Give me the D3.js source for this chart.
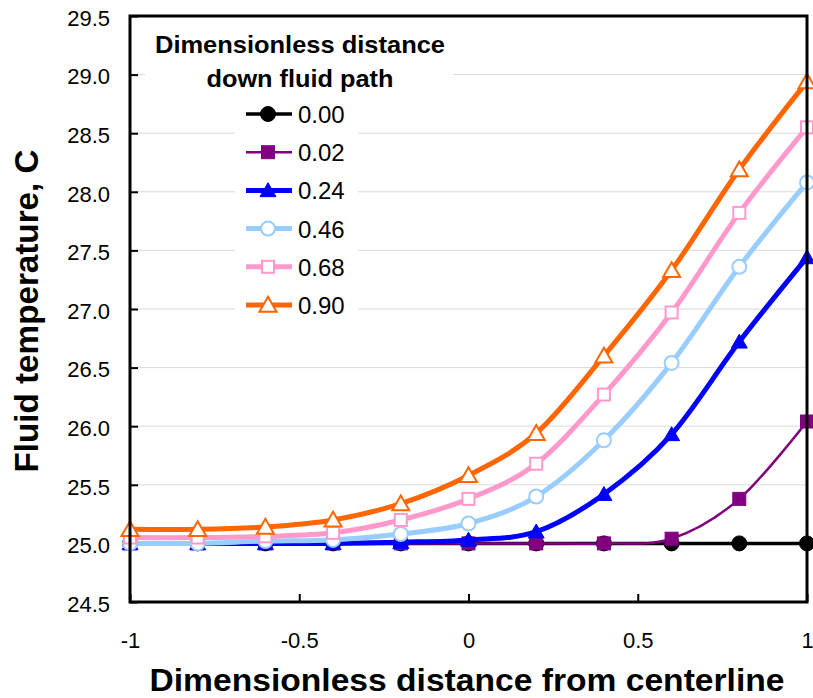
<!DOCTYPE html>
<html>
<head>
<meta charset="utf-8">
<script src="https://cdn.jsdelivr.net/npm/d3@7"></script>
<style>
  body { margin: 0; background: #fff; }
  svg { display: block; font-family: "Liberation Sans", Arial, sans-serif; }
  .grid line { stroke: #d9d9d9; stroke-width: 1px; }
  .axis path { display: none; }
  .axis line { stroke: #000; stroke-width: 2px; }
  .axis text { font-size: 22px; fill: #000; }
</style>
</head>
<body>
<svg id="chart" width="813" height="698"></svg>
<script>
// distance from centerline (x) and temperatures per fluid-path position
var xValues = [-1, -0.8, -0.6, -0.4, -0.2, 0, 0.2, 0.4, 0.6, 0.8, 1];
var seriesNames = ['0.00', '0.02', '0.24', '0.46', '0.68', '0.90'];
var t000 = [25, 25, 25, 25, 25, 25, 25, 25, 25, 25, 25];
var t002 = [25, 25, 25, 25, 25, 25, 25, 25, 25.04, 25.38, 26.04];
var t024 = [25, 25, 25, 25, 25.01, 25.03, 25.1, 25.42, 25.93, 26.72, 27.44];
var t046 = [25, 25, 25.02, 25.03, 25.08, 25.17, 25.4, 25.88, 26.54, 27.36, 28.08];
var t068 = [25.05, 25.05, 25.06, 25.09, 25.2, 25.38, 25.68, 26.27, 26.97, 27.82, 28.55];
var t090 = [25.12, 25.12, 25.14, 25.2, 25.34, 25.58, 25.94, 26.6, 27.33, 28.19, 28.94];
var yTicks = [24.5, 25, 25.5, 26, 26.5, 27, 27.5, 28, 28.5, 29, 29.5];
var xTicks = [-1, -0.5, 0, 0.5, 1];

var seriesValues = [t000, t002, t024, t046, t068, t090];

// look of each series, same order as seriesNames
var looks = [
  {color: '#000000', width: 3.5, shape: 'circle', fill: true, size: 7.5},
  {color: '#800080', width: 2.5, shape: 'square', fill: true, size: 13},
  {color: '#0000ff', width: 5, shape: 'triangle', fill: true, size: 16},
  {color: '#99ccff', width: 5, shape: 'circle', fill: false, size: 7},
  {color: '#ff99cc', width: 5, shape: 'square', fill: false, size: 12},
  {color: '#ff6600', width: 5, shape: 'triangle', fill: false, size: 17}
];

var m = {left: 130, right: 6, top: 16, bottom: 96};
var W = 813, H = 698;
var width = W - m.left - m.right, height = H - m.top - m.bottom;

var svg = d3.select('#chart');
var g = svg.append('g').attr('transform', 'translate(' + m.left + ',' + m.top + ')');

var x = d3.scaleLinear().domain([-1, 1]).range([0, width]);
var y = d3.scaleLinear().domain([24.5, 29.5]).range([height, 0]);

// gridlines
g.append('g').attr('class', 'grid')
  .selectAll('line').data(yTicks.slice(1, -1)).enter().append('line')
  .attr('x1', 0).attr('x2', width)
  .attr('y1', function (d) { return y(d); })
  .attr('y2', function (d) { return y(d); });

// axes, ticks pointing inwards
g.append('g').attr('class', 'axis left')
  .call(d3.axisLeft(y).tickValues(yTicks).tickSizeInner(-8).tickSizeOuter(0)
    .tickPadding(20).tickFormat(d3.format('.1f')))
  .selectAll('text').attr('dy', '0.42em');

g.append('g').attr('class', 'axis bottom')
  .attr('transform', 'translate(0,' + height + ')')
  .call(d3.axisBottom(x).tickValues(xTicks).tickSizeInner(-8).tickSizeOuter(0)
    .tickPadding(30).tickFormat(function (d) { return String(d); }));

// legend backgrounds (cover gridlines)
var legend = g.append('g').attr('class', 'legend');
legend.append('rect')
  .attr('x', 15).attr('y', 14).attr('width', 308).attr('height', 78)
  .attr('fill', '#fff');
legend.append('rect')
  .attr('x', 105).attr('y', 80).attr('width', 123).attr('height', 230)
  .attr('fill', '#fff');

function marker(sel, look) {
  var s = look.size;
  var stroke = look.color, fill = look.fill ? look.color : '#fff';
  if (look.shape === 'circle') {
    sel.append('circle').attr('r', s);
  } else if (look.shape === 'square') {
    sel.append('rect').attr('x', -s / 2).attr('y', -s / 2).attr('width', s).attr('height', s);
  } else {
    var h = s * 0.87;
    sel.append('path').attr('d', 'M0,' + (-h * 0.55) + 'L' + (s / 2) + ',' + (h * 0.45) +
      'L' + (-s / 2) + ',' + (h * 0.45) + 'Z');
  }
  sel.selectAll('*').attr('fill', fill).attr('stroke', stroke)
    .attr('stroke-width', look.fill ? 1 : 2);
}

var line = d3.line()
  .x(function (d) { return x(d[0]); })
  .y(function (d) { return y(d[1]); })
  .curve(d3.curveCardinal.tension(0));

seriesValues.forEach(function (vals, i) {
  var look = looks[i];
  var pts = xValues.map(function (xv, j) { return [xv, vals[j]]; });
  var sg = g.append('g').attr('class', 'series s' + i);
  sg.append('path').datum(pts)
    .attr('d', line)
    .attr('fill', 'none')
    .attr('stroke', look.color)
    .attr('stroke-width', look.width)
    .attr('stroke-linejoin', 'round');
  sg.selectAll('g.pt').data(pts).enter().append('g')
    .attr('class', 'pt')
    .attr('transform', function (d) { return 'translate(' + x(d[0]) + ',' + y(d[1]) + ')'; })
    .each(function () { marker(d3.select(this), look); });
});

// frame
g.append('rect')
  .attr('width', width).attr('height', height)
  .attr('fill', 'none').attr('stroke', '#000').attr('stroke-width', 3);

// legend content
legend.raise();
legend.append('text')
  .attr('x', 170).attr('y', 37)
  .attr('text-anchor', 'middle')
  .attr('font-size', 24).attr('font-weight', 'bold')
  .attr('textLength', 290).attr('lengthAdjust', 'spacingAndGlyphs')
  .text('Dimensionless distance');
legend.append('text')
  .attr('x', 170).attr('y', 71)
  .attr('text-anchor', 'middle')
  .attr('font-size', 24).attr('font-weight', 'bold')
  .attr('textLength', 187).attr('lengthAdjust', 'spacingAndGlyphs')
  .text('down fluid path');

seriesNames.forEach(function (name, i) {
  var look = looks[i];
  var row = legend.append('g')
    .attr('transform', 'translate(138,' + (98 + i * 38.2) + ')');
  row.append('line')
    .attr('x1', -22).attr('x2', 24)
    .attr('stroke', look.color).attr('stroke-width', look.width);
  marker(row.append('g'), look);
  row.append('text')
    .attr('x', 30).attr('y', 9)
    .attr('font-size', 24)
    .text(name);
});

// axis titles
svg.append('text')
  .attr('x', 467).attr('y', 691)
  .attr('text-anchor', 'middle')
  .attr('font-size', 31).attr('font-weight', 'bold')
  .attr('textLength', 635).attr('lengthAdjust', 'spacingAndGlyphs')
  .text('Dimensionless distance from centerline');

svg.append('text')
  .attr('transform', 'translate(38,311) rotate(-90)')
  .attr('text-anchor', 'middle')
  .attr('font-size', 33).attr('font-weight', 'bold')
  .attr('textLength', 323).attr('lengthAdjust', 'spacingAndGlyphs')
  .text('Fluid temperature, C');
</script>
</body>
</html>
